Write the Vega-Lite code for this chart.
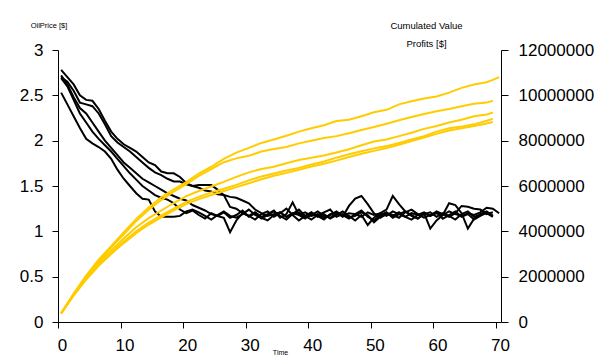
{
"$schema": "https://vega.github.io/schema/vega-lite/v6.json",
"width": 443, "height": 272,
"autosize": {"type": "none"},
"padding": {"left": 58, "top": 50, "right": 93, "bottom": 40},
"background": "white",
"config": {"view": {"stroke": null}, "font": "Liberation Sans",
  "axis": {"grid": false, "domainColor": "black", "tickColor": "black", "labelColor": "black", "labelFont": "Liberation Sans", "labelFontSize": 17, "titleFont": "Liberation Sans", "titleFontWeight": "normal", "titleColor": "black", "domainWidth": 1, "tickWidth": 1}},
"datasets": {
"price": [
{"t":0.5,"a":2.78,"b":2.70,"c":2.72,"d":2.69,"e":2.53},
{"t":1.5,"a":2.70,"b":2.65,"c":2.62,"d":2.60,"e":2.40},
{"t":2.5,"a":2.62,"b":2.55,"c":2.48,"d":2.45,"e":2.27},
{"t":3.5,"a":2.50,"b":2.42,"c":2.36,"d":2.30,"e":2.14},
{"t":4.5,"a":2.45,"b":2.40,"c":2.30,"d":2.20,"e":2.02},
{"t":5.5,"a":2.44,"b":2.38,"c":2.20,"d":2.10,"e":1.97},
{"t":6.5,"a":2.35,"b":2.30,"c":2.10,"d":2.02,"e":1.93},
{"t":7.5,"a":2.22,"b":2.18,"c":2.00,"d":1.95,"e":1.88},
{"t":8.5,"a":2.10,"b":2.05,"c":1.92,"d":1.88,"e":1.80},
{"t":9.5,"a":2.02,"b":1.98,"c":1.84,"d":1.80,"e":1.68},
{"t":10.5,"a":1.96,"b":1.93,"c":1.76,"d":1.72,"e":1.58},
{"t":11.5,"a":1.92,"b":1.88,"c":1.70,"d":1.64,"e":1.50},
{"t":12.5,"a":1.88,"b":1.82,"c":1.64,"d":1.57,"e":1.42},
{"t":13.5,"a":1.82,"b":1.76,"c":1.58,"d":1.50,"e":1.36},
{"t":14.5,"a":1.76,"b":1.70,"c":1.54,"d":1.45,"e":1.35},
{"t":15.5,"a":1.73,"b":1.65,"c":1.50,"d":1.40,"e":1.22},
{"t":16.5,"a":1.66,"b":1.62,"c":1.46,"d":1.37,"e":1.16},
{"t":17.5,"a":1.64,"b":1.58,"c":1.42,"d":1.35,"e":1.16},
{"t":18.5,"a":1.64,"b":1.55,"c":1.39,"d":1.31,"e":1.16},
{"t":19.5,"a":1.60,"b":1.55,"c":1.36,"d":1.24,"e":1.17},
{"t":20.5,"a":1.53,"b":1.52,"c":1.34,"d":1.20,"e":1.22},
{"t":21.5,"a":1.50,"b":1.50,"c":1.29,"d":1.23,"e":1.24},
{"t":22.5,"a":1.48,"b":1.51,"c":1.26,"d":1.18,"e":1.21},
{"t":23.5,"a":1.45,"b":1.51,"c":1.23,"d":1.14,"e":1.17},
{"t":24.5,"a":1.44,"b":1.51,"c":1.19,"d":1.20,"e":1.13},
{"t":25.5,"a":1.41,"b":1.46,"c":1.17,"d":1.17,"e":1.18},
{"t":26.5,"a":1.40,"b":1.40,"c":1.15,"d":1.21,"e":1.22},
{"t":27.5,"a":1.38,"b":1.27,"c":0.99,"d":1.15,"e":1.17},
{"t":28.5,"a":1.37,"b":1.25,"c":1.12,"d":1.18,"e":1.15},
{"t":29.5,"a":1.34,"b":1.20,"c":1.20,"d":1.23,"e":1.19},
{"t":30.5,"a":1.31,"b":1.17,"c":1.17,"d":1.16,"e":1.24},
{"t":31.5,"a":1.24,"b":1.21,"c":1.13,"d":1.20,"e":1.18},
{"t":32.5,"a":1.20,"b":1.16,"c":1.19,"d":1.14,"e":1.15},
{"t":33.5,"a":1.17,"b":1.19,"c":1.22,"d":1.18,"e":1.12},
{"t":34.5,"a":1.19,"b":1.23,"c":1.16,"d":1.22,"e":1.18},
{"t":35.5,"a":1.21,"b":1.15,"c":1.20,"d":1.17,"e":1.21},
{"t":36.5,"a":1.16,"b":1.19,"c":1.25,"d":1.13,"e":1.16},
{"t":37.5,"a":1.20,"b":1.32,"c":1.18,"d":1.19,"e":1.19},
{"t":38.5,"a":1.18,"b":1.18,"c":1.12,"d":1.21,"e":1.24},
{"t":39.5,"a":1.21,"b":1.14,"c":1.17,"d":1.15,"e":1.17},
{"t":40.5,"a":1.17,"b":1.20,"c":1.21,"d":1.18,"e":1.13},
{"t":41.5,"a":1.19,"b":1.17,"c":1.16,"d":1.22,"e":1.18},
{"t":42.5,"a":1.15,"b":1.13,"c":1.19,"d":1.17,"e":1.21},
{"t":43.5,"a":1.18,"b":1.19,"c":1.14,"d":1.15,"e":1.24},
{"t":44.5,"a":1.22,"b":1.21,"c":1.18,"d":1.20,"e":1.16},
{"t":45.5,"a":1.17,"b":1.16,"c":1.22,"d":1.18,"e":1.19},
{"t":46.5,"a":1.20,"b":1.28,"c":1.17,"d":1.14,"e":1.15},
{"t":47.5,"a":1.19,"b":1.36,"c":1.12,"d":1.19,"e":1.17},
{"t":48.5,"a":1.16,"b":1.39,"c":1.18,"d":1.23,"e":1.21},
{"t":49.5,"a":1.21,"b":1.30,"c":1.07,"d":1.16,"e":1.18},
{"t":50.5,"a":1.18,"b":1.20,"c":1.15,"d":1.12,"e":1.10},
{"t":51.5,"a":1.20,"b":1.15,"c":1.20,"d":1.18,"e":1.16},
{"t":52.5,"a":1.17,"b":1.19,"c":1.24,"d":1.21,"e":1.20},
{"t":53.5,"a":1.22,"b":1.17,"c":1.39,"d":1.15,"e":1.18},
{"t":54.5,"a":1.19,"b":1.21,"c":1.30,"d":1.19,"e":1.15},
{"t":55.5,"a":1.16,"b":1.16,"c":1.22,"d":1.22,"e":1.21},
{"t":56.5,"a":1.20,"b":1.13,"c":1.18,"d":1.17,"e":1.24},
{"t":57.5,"a":1.18,"b":1.18,"c":1.14,"d":1.14,"e":1.19},
{"t":58.5,"a":1.21,"b":1.20,"c":1.20,"d":1.19,"e":1.15},
{"t":59.5,"a":1.17,"b":1.17,"c":1.03,"d":1.21,"e":1.18},
{"t":60.5,"a":1.20,"b":1.22,"c":1.12,"d":1.16,"e":1.21},
{"t":61.5,"a":1.18,"b":1.19,"c":1.18,"d":1.20,"e":1.14},
{"t":62.5,"a":1.22,"b":1.16,"c":1.31,"d":1.17,"e":1.18},
{"t":63.5,"a":1.19,"b":1.20,"c":1.29,"d":1.13,"e":1.22},
{"t":64.5,"a":1.17,"b":1.28,"c":1.20,"d":1.19,"e":1.16},
{"t":65.5,"a":1.20,"b":1.27,"c":1.03,"d":1.22,"e":1.19},
{"t":66.5,"a":1.18,"b":1.25,"c":1.14,"d":1.16,"e":1.13},
{"t":67.5,"a":1.21,"b":1.24,"c":1.19,"d":1.18,"e":1.17},
{"t":68.5,"a":1.26,"b":1.19,"c":1.22,"d":1.20,"e":1.21},
{"t":69.5,"a":1.25,"b":1.21,"c":1.17,"d":1.16,"e":1.17},
{"t":70.5,"a":1.20,"b":null,"c":null,"d":null,"e":null}
],
"profit": [
{"t":0.5,"g1":380000,"g2":380000,"g3":380000,"g4":380000,"g5":380000},
{"t":2.5,"g1":1250000,"g2":1220000,"g3":1200000,"g4":1180000,"g5":1170000},
{"t":4.5,"g1":2050000,"g2":2000000,"g3":1950000,"g4":1900000,"g5":1870000},
{"t":6.5,"g1":2750000,"g2":2680000,"g3":2600000,"g4":2520000,"g5":2480000},
{"t":8.5,"g1":3350000,"g2":3280000,"g3":3150000,"g4":3050000,"g5":3000000},
{"t":10.5,"g1":3950000,"g2":3870000,"g3":3680000,"g4":3550000,"g5":3480000},
{"t":12.5,"g1":4550000,"g2":4450000,"g3":4180000,"g4":4000000,"g5":3920000},
{"t":14.5,"g1":5050000,"g2":4950000,"g3":4580000,"g4":4380000,"g5":4300000},
{"t":16.5,"g1":5500000,"g2":5380000,"g3":4920000,"g4":4700000,"g5":4620000},
{"t":18.5,"g1":5850000,"g2":5750000,"g3":5250000,"g4":5000000,"g5":4920000},
{"t":20.5,"g1":6170000,"g2":6080000,"g3":5550000,"g4":5300000,"g5":5200000},
{"t":22.5,"g1":6550000,"g2":6450000,"g3":5780000,"g4":5520000,"g5":5420000},
{"t":24.5,"g1":6850000,"g2":6750000,"g3":5980000,"g4":5720000,"g5":5600000},
{"t":26.5,"g1":7200000,"g2":7050000,"g3":6180000,"g4":5880000,"g5":5780000},
{"t":28.5,"g1":7470000,"g2":7220000,"g3":6400000,"g4":6050000,"g5":5950000},
{"t":30.5,"g1":7680000,"g2":7330000,"g3":6600000,"g4":6250000,"g5":6120000},
{"t":32.5,"g1":7900000,"g2":7520000,"g3":6750000,"g4":6420000,"g5":6300000},
{"t":34.5,"g1":8050000,"g2":7630000,"g3":6850000,"g4":6550000,"g5":6450000},
{"t":36.5,"g1":8220000,"g2":7720000,"g3":7000000,"g4":6680000,"g5":6580000},
{"t":38.5,"g1":8400000,"g2":7880000,"g3":7150000,"g4":6800000,"g5":6720000},
{"t":40.5,"g1":8550000,"g2":8000000,"g3":7250000,"g4":6950000,"g5":6860000},
{"t":42.5,"g1":8680000,"g2":8120000,"g3":7350000,"g4":7080000,"g5":6980000},
{"t":44.5,"g1":8870000,"g2":8200000,"g3":7480000,"g4":7250000,"g5":7120000},
{"t":46.5,"g1":8920000,"g2":8330000,"g3":7620000,"g4":7400000,"g5":7280000},
{"t":48.5,"g1":9080000,"g2":8470000,"g3":7800000,"g4":7530000,"g5":7420000},
{"t":50.5,"g1":9250000,"g2":8600000,"g3":7960000,"g4":7660000,"g5":7550000},
{"t":52.5,"g1":9360000,"g2":8750000,"g3":8050000,"g4":7760000,"g5":7680000},
{"t":54.5,"g1":9600000,"g2":8900000,"g3":8200000,"g4":7900000,"g5":7820000},
{"t":56.5,"g1":9740000,"g2":9040000,"g3":8350000,"g4":8050000,"g5":7980000},
{"t":58.5,"g1":9860000,"g2":9180000,"g3":8520000,"g4":8200000,"g5":8140000},
{"t":60.5,"g1":9950000,"g2":9300000,"g3":8650000,"g4":8400000,"g5":8300000},
{"t":62.5,"g1":10120000,"g2":9400000,"g3":8800000,"g4":8550000,"g5":8450000},
{"t":64.5,"g1":10330000,"g2":9520000,"g3":8920000,"g4":8620000,"g5":8550000},
{"t":66.5,"g1":10480000,"g2":9630000,"g3":9080000,"g4":8720000,"g5":8650000},
{"t":68.5,"g1":10580000,"g2":9680000,"g3":9150000,"g4":8880000,"g5":8760000},
{"t":69.5,"g1":10680000,"g2":9760000,"g3":9240000,"g4":8960000,"g5":8820000},
{"t":70.5,"g1":10800000,"g2":null,"g3":null,"g4":null,"g5":null}
]
},
"layer": [
{"data": {"name": "price"},
 "transform": [{"fold": ["a","b","c","d","e"], "as": ["run","price"]}, {"filter": "isValid(datum.price)"}],
 "mark": {"type": "line", "color": "black", "strokeWidth": 2},
 "encoding": {
  "x": {"field": "t", "type": "quantitative", "scale": {"domain": [0, 70.8], "nice": false},
        "axis": {"values": [0,10,20,30,40,50,60,70], "tickSize": 6, "labelPadding": 9, "labelOffset": 4, "labelFlush": false,
                 "title": "Time", "titleFontSize": 7, "titleX": 222, "titleY": 30, "titleAlign": "center", "titleBaseline": "middle"}},
  "y": {"field": "price", "type": "quantitative", "scale": {"domain": [0, 3], "nice": false},
        "axis": {"values": [0,0.5,1,1.5,2,2.5,3], "format": "~g", "tickSize": 6, "labelPadding": 9,
                 "title": "OilPrice [$]", "titleAngle": 0, "titleFontSize": 7.5, "titleX": -9.5, "titleY": -25, "titleAlign": "center", "titleBaseline": "middle"}},
  "detail": {"field": "run"}}},
{"data": {"name": "profit"},
 "transform": [{"fold": ["g1","g2","g3","g4","g5"], "as": ["run","profit"]}, {"filter": "isValid(datum.profit)"}],
 "mark": {"type": "line", "color": "#FFCC00", "strokeWidth": 2},
 "encoding": {
  "x": {"field": "t", "type": "quantitative"},
  "y": {"field": "profit", "type": "quantitative", "scale": {"domain": [0, 12000000], "nice": false},
        "axis": {"orient": "right", "values": [0,2000000,4000000,6000000,8000000,10000000,12000000], "format": "d", "tickSize": 7, "labelPadding": 10,
                 "title": ["Cumulated Value", "Profits [$]"], "titleAngle": 0, "titleFontSize": 9.5, "titleLineHeight": 18, "titleX": -75, "titleY": -25, "titleAlign": "center", "titleBaseline": "middle"}},
  "detail": {"field": "run"}}}
],
"resolve": {"scale": {"y": "independent"}}
}
